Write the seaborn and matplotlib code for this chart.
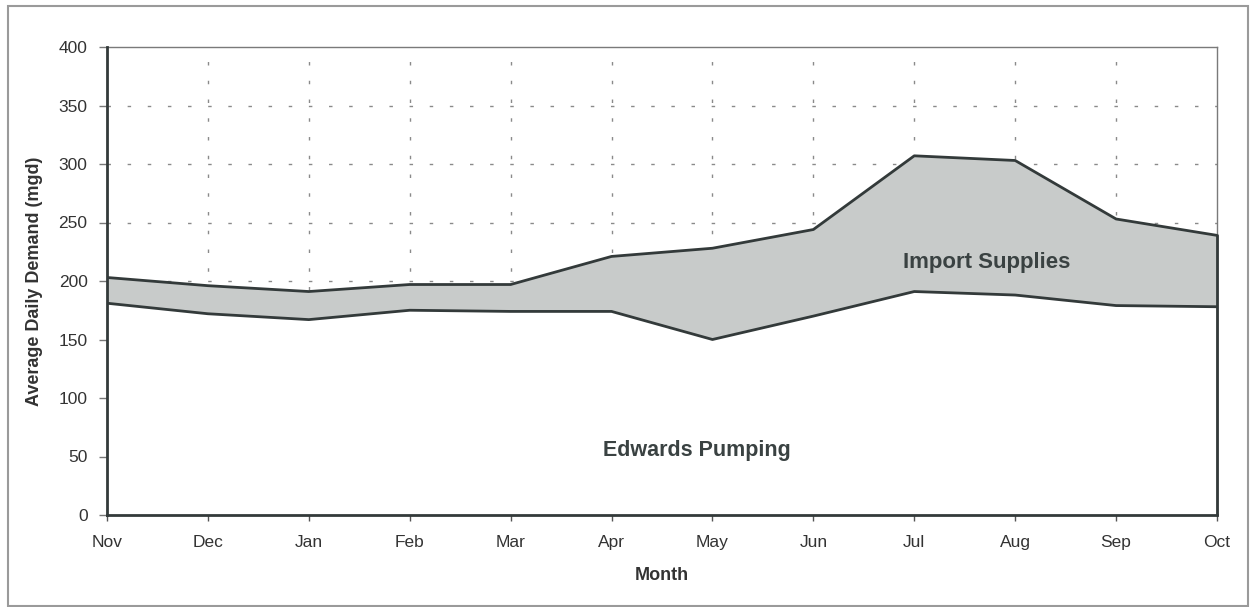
import matplotlib
matplotlib.use("Agg")
import matplotlib.pyplot as plt
import seaborn as sns
import pandas as pd
from matplotlib.patches import Rectangle

months = ["Nov", "Dec", "Jan", "Feb", "Mar", "Apr", "May", "Jun", "Jul", "Aug", "Sep", "Oct"]
edwards_pumping = [181, 172, 167, 175, 174, 174, 150, 170, 191, 188, 179, 178]
total_demand = [203, 196, 191, 197, 197, 221, 228, 244, 307, 303, 253, 239]
y_ticks = [0, 50, 100, 150, 200, 250, 300, 350, 400]

sns.set_theme(style="white")
plt.rcParams["font.family"] = ["Liberation Sans", "DejaVu Sans"]

df = pd.DataFrame({"month": months, "pos": range(len(months)),
                   "edwards": edwards_pumping, "total": total_demand})

fig = plt.figure(figsize=(12.51, 6.07), dpi=100)
ax = fig.add_axes([107 / 1251, 1 - 515 / 607, (1217 - 107) / 1251, (515 - 47) / 607])

dark = "#333a3a"
grid_c = "#8a8a8a"

# grid
for yv in y_ticks[1:-1]:
    ax.axhline(yv, color=grid_c, lw=1.0, ls=(0, (2.5, 12)), zorder=0)
for xv in df["pos"][1:-1]:
    ax.axvline(xv, color=grid_c, lw=1.0, ls=(0, (2.5, 11)), zorder=0)

# areas
ax.fill_between(df["pos"], 0, df["edwards"], color="white", zorder=1, lw=0)
ax.fill_between(df["pos"], df["edwards"], df["total"], color="#c8cbca", zorder=1, lw=0)

sns.lineplot(data=df, x="pos", y="edwards", color=dark, lw=2.0, ax=ax, zorder=3)
sns.lineplot(data=df, x="pos", y="total", color=dark, lw=2.0, ax=ax, zorder=3)
last = df["pos"].iloc[-1]
ax.plot([last, last], [0, df["total"].iloc[-1]], color=dark, lw=2.0, zorder=3, clip_on=False)

ax.set_xlim(0, len(months) - 1)
ax.set_ylim(0, 400)
ax.set_xticks(df["pos"])
ax.set_xticklabels(months)
ax.set_yticks(y_ticks)

for s in ["top", "right"]:
    ax.spines[s].set_color("#7a7a7a")
    ax.spines[s].set_linewidth(1.0)
for s in ["left", "bottom"]:
    ax.spines[s].set_color(dark)
    ax.spines[s].set_linewidth(2.0)
    ax.spines[s].set_zorder(4)

ax.tick_params(axis="x", direction="inout", length=9, width=1, color="#555", labelsize=12.5,
               labelcolor="#333", pad=10, bottom=True)
ax.tick_params(axis="y", direction="out", length=6, width=1, color="#777", labelsize=12.5,
               labelcolor="#333", pad=8, left=True)

ax.set_xlabel("Month", fontsize=13, fontweight="bold", color="#333", labelpad=12)
ax.set_ylabel("Average Daily Demand (mgd)", fontsize=13, fontweight="bold", color="#333", labelpad=11)

ax.text(8.72, 216, "Import Supplies", fontsize=16, fontweight="bold", color="#3a4242",
        ha="center", va="center", zorder=5)
ax.text(5.85, 55, "Edwards Pumping", fontsize=15.5, fontweight="bold", color="#3a4242",
        ha="center", va="center", zorder=5)

fig.patches.append(Rectangle((8 / 1251, 1 - 606 / 607), 1240 / 1251, 600 / 607,
                             transform=fig.transFigure, fill=False, ec="#9a9a9a", lw=1.5))

fig.savefig("out.png", dpi=100)
